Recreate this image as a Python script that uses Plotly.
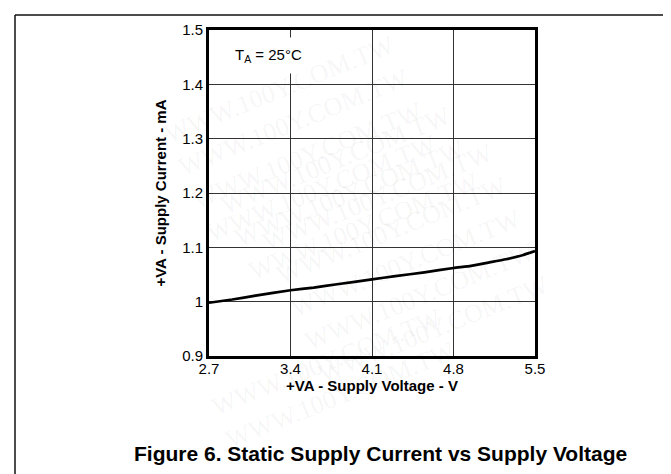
"""
Static supply current vs supply voltage (Figure 6), redrawn with Plotly.
"""

import plotly.graph_objects as go

# values
supply_voltage = [2.7, 2.9, 3.1, 3.4, 3.6, 3.8, 4.1, 4.3, 4.55, 4.8, 4.95, 5.1, 5.25, 5.4, 5.5]
supply_current = [0.998, 1.004, 1.011, 1.021, 1.026, 1.032, 1.041, 1.047, 1.054,
                  1.062, 1.066, 1.072, 1.078, 1.086, 1.093]

x_ticks = [2.7, 3.4, 4.1, 4.8, 5.5]
y_ticks = [0.9, 1.0, 1.1, 1.2, 1.3, 1.4, 1.5]
y_tick_text = ["0.9", "1", "1.1", "1.2", "1.3", "1.4", "1.5"]

watermark = "WWW.100Y.COM.TW"

FONT = "Liberation Sans, Arial, sans-serif"
W, H = 671, 474
L, R, T, B = 201, 144, 22, 126
PW, PH = W - L - R, H - T - B


def px(x):
    # page pixel -> paper x
    return (x - L) / PW


def py(y):
    # page pixel -> paper y
    return (H - B - y) / PH


fig = go.Figure()

fig.add_trace(go.Scatter(
    x=supply_voltage, y=supply_current,
    mode="lines",
    line=dict(color="black", width=2.7, shape="spline", smoothing=0.4),
    showlegend=False,
    hoverinfo="x+y",
))

# faint diagonal watermark repeated down the page
for i in range(14):
    fig.add_annotation(
        x=px(150 + i * 14), y=py(20 + i * 33),
        xref="paper", yref="paper",
        text=watermark, showarrow=False, textangle=-22,
        font=dict(family="Liberation Serif, Times New Roman, serif",
                  size=26, color="rgba(0,0,0,0.055)"),
    )

fig.add_annotation(
    x=px(218), y=py(48), xref="paper", yref="paper",
    xanchor="left", yanchor="middle",
    text="T<sub>A</sub> = 25°C", showarrow=False,
    font=dict(family=FONT, size=15, color="black"),
    bgcolor="white", borderpad=8,
)

fig.add_annotation(
    x=px(372), y=py(459), xref="paper", yref="paper",
    text="<b>Figure 6. Static Supply Current vs Supply Voltage</b>",
    showarrow=False,
    font=dict(family=FONT, size=21, color="black"),
)

# thin page frame along the top and the left
fig.add_shape(type="line", xref="paper", yref="paper",
              x0=px(7), x1=px(W), y0=py(7), y1=py(7),
              line=dict(color="#111", width=1.5))
fig.add_shape(type="line", xref="paper", yref="paper",
              x0=px(7), x1=px(7), y0=py(7), y1=py(H),
              line=dict(color="#111", width=1.5))

fig.update_layout(
    width=W, height=H,
    margin=dict(l=L, r=R, t=T, b=B),
    plot_bgcolor="white", paper_bgcolor="white",
    font=dict(family=FONT, size=15, color="black"),
    showlegend=False,
)

fig.update_xaxes(
    range=[2.7, 5.5], tickvals=x_ticks, ticks="",
    showgrid=True, gridcolor="#333", gridwidth=1.3, zeroline=False,
    showline=True, linecolor="black", linewidth=3, mirror=True,
    ticklabelstandoff=-3,
    title=dict(text="<b>+VA - Supply Voltage - V</b>", standoff=3,
               font=dict(size=15)),
    tickfont=dict(size=15),
)
fig.update_yaxes(
    range=[0.9, 1.5], tickvals=y_ticks, ticktext=y_tick_text, ticks="",
    showgrid=True, gridcolor="#333", gridwidth=1.3, zeroline=False,
    showline=True, linecolor="black", linewidth=3, mirror=True,
    title=dict(text="<b>+VA - Supply Current - mA</b>", standoff=12,
               font=dict(size=15)),
    tickfont=dict(size=15),
)

fig.write_html("out.html")
